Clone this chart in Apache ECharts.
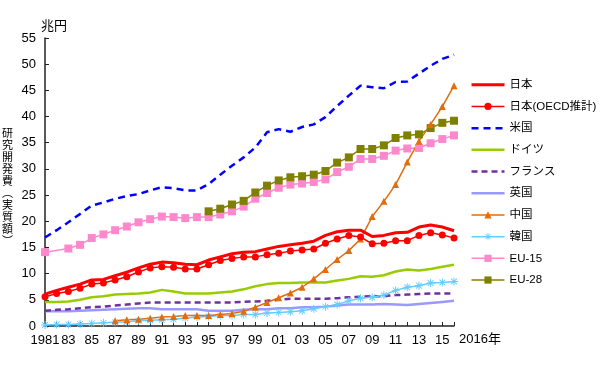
<!DOCTYPE html>
<html><head><meta charset="utf-8">
<script src="https://cdn.jsdelivr.net/npm/echarts@6/dist/echarts.min.js"></script>
<style>html,body{margin:0;padding:0;background:#fff}#c{width:600px;height:365px}</style>
</head><body><div id="c"></div>
<script>
const years = [];
for (let y = 1981; y <= 2016; y++) years.push(String(y));
const japan = [6.1,6.8,7.4,8.0,8.8,8.9,9.6,10.3,11.1,11.8,12.2,12.1,11.8,11.7,12.6,13.2,13.8,14.1,14.2,14.7,15.2,15.5,15.8,16.2,17.3,18.0,18.3,18.3,17.1,17.3,17.8,17.9,18.9,19.3,18.9,18.2];
const japanOECD = [5.6,6.2,6.6,7.2,8.0,8.2,8.8,9.4,10.3,11.1,11.3,11.2,10.9,10.9,11.7,12.5,12.9,13.2,13.2,13.6,13.9,14.3,14.5,14.7,15.8,16.6,17.3,17.0,15.7,15.8,16.3,16.3,17.3,17.8,17.4,16.8];
const usa = [16.9,18.3,19.8,21.4,23.0,23.6,24.3,24.8,25.2,25.9,26.5,26.3,25.9,25.9,27.1,28.9,30.6,32.2,34.1,37.0,37.6,37.1,38.0,38.5,39.9,42.0,44.0,45.9,45.6,45.4,46.6,46.7,48.2,49.7,51.0,51.8];
const germany = [4.6,4.6,4.7,5.0,5.5,5.7,6.0,6.1,6.2,6.4,6.9,6.6,6.2,6.2,6.2,6.4,6.6,7.0,7.6,8.0,8.2,8.2,8.3,8.3,8.3,8.7,9.0,9.5,9.4,9.7,10.4,10.8,10.6,10.9,11.3,11.7];
const france = [2.9,3.1,3.2,3.4,3.6,3.7,3.9,4.1,4.3,4.5,4.5,4.5,4.5,4.5,4.5,4.5,4.5,4.6,4.7,4.8,5.0,5.2,5.2,5.2,5.2,5.3,5.5,5.6,5.7,5.7,5.9,6.0,6.1,6.2,6.2,6.2];
const uk = [2.8,2.8,2.8,2.9,3.0,3.1,3.2,3.3,3.4,3.4,3.2,3.2,3.2,3.2,2.9,2.9,2.9,3.1,3.2,3.2,3.4,3.4,3.6,3.6,3.7,3.9,4.1,4.1,4.1,4.2,4.1,4.0,4.2,4.4,4.6,4.8];
const china = [null,null,null,null,null,null,1.0,1.2,1.3,1.5,1.7,1.8,2.0,2.0,2.0,2.2,2.4,2.8,3.6,4.5,5.4,6.3,7.4,9.0,10.8,12.7,14.4,16.6,20.9,23.8,27.0,31.3,35.3,38.5,41.9,45.9];
const korea = [0.2,0.3,0.3,0.4,0.5,0.6,0.7,0.8,1.0,1.1,1.2,1.3,1.5,1.7,1.8,2.0,2.0,2.2,2.2,2.5,2.6,2.7,2.9,3.3,3.7,4.1,4.8,5.3,5.5,5.9,6.8,7.4,7.7,8.2,8.3,8.5];
const eu15 = [14.1,null,14.8,15.5,16.8,17.5,18.3,19.0,19.8,20.4,20.9,20.8,20.6,20.8,20.8,21.3,21.9,22.8,24.3,25.4,26.4,27.0,27.2,27.5,28.0,29.4,30.4,31.9,31.9,32.5,33.5,33.9,34.0,34.9,35.7,36.4];
const eu28 = [null,null,null,null,null,null,null,null,null,null,null,null,null,null,21.9,22.4,23.2,23.9,25.5,26.8,27.8,28.4,28.6,28.9,29.6,31.2,32.2,33.8,33.8,34.5,35.9,36.4,36.6,37.8,38.8,39.2];
const names = ['日本','日本(OECD推計)','米国','ドイツ','フランス','英国','中国','韓国','EU-15','EU-28'];
const yTitle = '研究開発費︵実質額︶';
const yUnit = '兆円';
const xEndLabel = '2016年';

const FONT = '"Liberation Sans", "Noto Sans CJK JP", sans-serif';
const asterisk = 'path://M0,4.4L10,4.4L10,5.6L0,5.6Z M4.4,0L5.6,0L5.6,10L4.4,10Z M1,1.8L1.8,1L9,8.2L8.2,9Z M8.2,1L9,1.8L1.8,9L1,8.2Z';

function line(name, data, color, width, opts) {
  return Object.assign({
    name, type: 'line', data, symbol: 'none', connectNulls: true, showAllSymbol: true,
    lineStyle: { color, width }, itemStyle: { color }, animation: false, z: 2
  }, opts || {});
}
const series = [
  line(names[2], usa, '#0000ff', 2.5, { lineStyle: { color: '#0000ff', width: 2.5, type: [7, 5] } }),
  line(names[8], eu15, '#ff88cc', 1.5, { symbol: 'rect', symbolSize: 8 }),
  line(names[9], eu28, '#808000', 1.5, { symbol: 'rect', symbolSize: 8 }),
  line(names[3], germany, '#99cc00', 2.5),
  line(names[5], uk, '#9999ff', 2.5),
  line(names[4], france, '#7030a0', 2.5, { lineStyle: { color: '#7030a0', width: 2.5, type: [6, 4] } }),
  line(names[7], korea, '#66ccff', 1.5, { symbol: asterisk, symbolSize: 8 }),
  line(names[6], china, '#e46c0a', 1.5, { symbol: 'triangle', symbolSize: 7 }),
  line(names[0], japan, '#ff0000', 3),
  line(names[1], japanOECD, '#ff0000', 1.5, { symbol: 'circle', symbolSize: 7 })
];
const noMarker = new Set([names[0], names[2], names[3], names[4], names[5]]);
const legendWidth = { '日本': 3, '米国': 2.5, 'ドイツ': 2.5, 'フランス': 2.5, '英国': 2.5 };
const legendData = names.map(n => noMarker.has(n)
  ? { name: n, lineStyle: { width: legendWidth[n] }, itemStyle: { color: 'rgba(0,0,0,0)', borderColor: 'rgba(0,0,0,0)', borderWidth: 0 } }
  : { name: n, lineStyle: { width: 1.5 } });

const chart = echarts.init(document.getElementById('c'), null, { renderer: 'canvas' });
chart.setOption({
  animation: false,
  backgroundColor: '#fff',
  textStyle: { fontFamily: FONT },
  grid: { left: 45, right: 146, top: 38, bottom: 39, containLabel: false },
  legend: {
    data: legendData, orient: 'vertical', left: 465, top: 74,
    itemWidth: 33, itemHeight: 9, itemGap: 10.2,
    textStyle: { fontSize: 11.5, color: '#000', fontFamily: FONT }
  },
  xAxis: {
    type: 'category', data: years, boundaryGap: false,
    axisLine: { lineStyle: { color: '#222', width: 1.5 } },
    axisTick: { inside: true, length: 4, interval: 0, lineStyle: { color: '#222' } },
    axisLabel: {
      interval: 1, color: '#000', fontSize: 13, margin: 8,
      formatter: v => v === '1981' ? v : v.slice(2)
    },
    splitLine: { show: false }
  },
  yAxis: {
    type: 'value', min: 0, max: 55, interval: 5,
    axisLine: { show: true, lineStyle: { color: '#222', width: 1.5 } },
    axisTick: { show: true, inside: true, length: 4, lineStyle: { color: '#222' } },
    axisLabel: { color: '#000', fontSize: 13, margin: 9 },
    splitLine: { show: false }
  },
  graphic: [
    { type: 'text', left: 41, top: 20, style: { text: yUnit, font: '13px ' + FONT, fill: '#000' } },
    { type: 'text', left: 459, top: 333, style: { text: xEndLabel, font: '13px ' + FONT, fill: '#000' } },
    { type: 'text', left: 2, top: 128, style: { text: yTitle.split('').join('\n'), font: '11px ' + FONT, fill: '#000', lineHeight: 12, align: 'center' } }
  ],
  series
});
</script></body></html>
